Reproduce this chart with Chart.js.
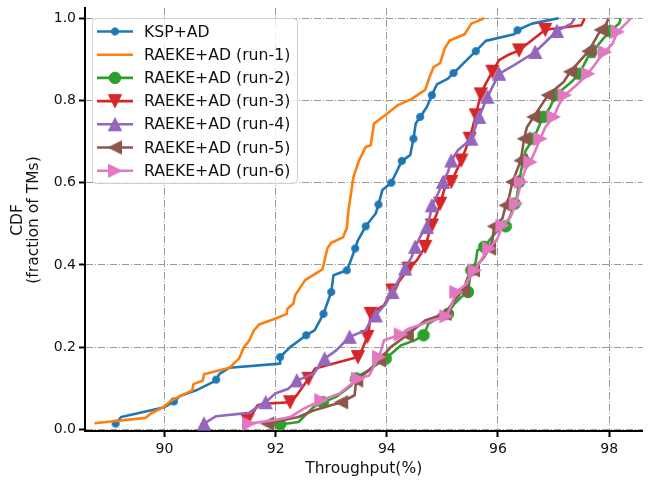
<!DOCTYPE html>
<html>
<head>
<meta charset="utf-8">
<script src="https://cdn.jsdelivr.net/npm/chart.js"></script>
<style>
  html, body { margin: 0; padding: 0; background: #fff; }
  canvas { display: block; }
</style>
</head>
<body>
<canvas id="cdf" width="650" height="483"></canvas>
<script>
// x ticks / y ticks
const xTicks = [90, 92, 94, 96, 98]
const yTicks = [0, 0.2, 0.4, 0.6, 0.8, 1.0]

const names = ['KSP+AD', 'RAEKE+AD (run-1)', 'RAEKE+AD (run-2)', 'RAEKE+AD (run-3)',
  'RAEKE+AD (run-4)', 'RAEKE+AD (run-5)', 'RAEKE+AD (run-6)']

// curves: [throughput %, CDF]
const kspLine = [[89.12,0.014],[89.22,0.03],[90.0,0.054],[90.17,0.068],[90.28,0.081],[90.57,0.095],[90.87,0.115],[90.93,0.121],[90.99,0.135],[91.17,0.15],[92.08,0.16],[92.08,0.176],[92.26,0.2],[92.55,0.229],[92.7,0.241],[92.86,0.281],[93.0,0.334],[93.04,0.375],[93.28,0.387],[93.33,0.403],[93.43,0.44],[93.48,0.46],[93.62,0.494],[93.8,0.525],[93.85,0.547],[93.92,0.582],[94.08,0.6],[94.27,0.653],[94.42,0.667],[94.48,0.707],[94.52,0.744],[94.6,0.76],[94.72,0.784],[94.81,0.813],[94.9,0.839],[95.1,0.853],[95.2,0.867],[95.31,0.881],[95.6,0.92],[95.78,0.945],[96.29,0.961],[96.35,0.971],[96.61,0.987],[97.09,1.0]]
const kspMarks = [[89.12,0.014],[90.17,0.068],[90.93,0.121],[92.08,0.176],[92.55,0.229],[92.86,0.281],[93.0,0.334],[93.28,0.387],[93.43,0.44],[93.62,0.494],[93.85,0.547],[94.08,0.6],[94.27,0.653],[94.48,0.707],[94.6,0.76],[94.81,0.813],[95.2,0.867],[95.6,0.92],[96.35,0.971]]

const run1Line = [[88.74,0.015],[89.66,0.028],[89.75,0.038],[89.98,0.054],[90.11,0.069],[90.28,0.081],[90.5,0.095],[90.52,0.11],[90.69,0.119],[90.71,0.134],[91.17,0.15],[91.34,0.172],[91.43,0.2],[91.52,0.215],[91.61,0.241],[91.7,0.255],[91.99,0.269],[92.2,0.281],[92.21,0.293],[92.32,0.306],[92.35,0.326],[92.53,0.363],[92.84,0.389],[92.88,0.411],[92.93,0.44],[93.0,0.454],[93.21,0.467],[93.28,0.49],[93.31,0.533],[93.4,0.614],[93.5,0.654],[93.62,0.687],[93.71,0.691],[93.77,0.744],[93.97,0.764],[94.19,0.788],[94.45,0.804],[94.69,0.826],[94.78,0.861],[94.84,0.881],[94.96,0.891],[95.04,0.926],[95.13,0.946],[95.4,0.961],[95.52,0.987],[95.75,1.0]]
const run1Marks = []

const run2Line = [[92.08,0.012],[92.41,0.018],[92.68,0.054],[92.85,0.066],[93.09,0.079],[93.36,0.107],[93.45,0.127],[93.68,0.144],[93.8,0.156],[93.98,0.172],[94.25,0.204],[94.51,0.217],[94.66,0.229],[94.75,0.257],[94.9,0.269],[95.07,0.277],[95.22,0.306],[95.34,0.322],[95.46,0.334],[95.49,0.363],[95.52,0.387],[95.6,0.407],[95.63,0.436],[95.75,0.444],[95.87,0.464],[95.99,0.484],[96.14,0.494],[96.2,0.513],[96.29,0.541],[96.33,0.557],[96.38,0.602],[96.44,0.646],[96.5,0.679],[96.64,0.707],[96.76,0.744],[96.82,0.76],[96.94,0.784],[97.03,0.813],[97.18,0.829],[97.32,0.845],[97.46,0.865],[97.62,0.906],[97.7,0.918],[97.89,0.95],[98.02,0.969],[98.18,0.987],[98.21,1.0]]
const run2Marks = [[92.08,0.012],[92.85,0.066],[93.45,0.124],[93.98,0.172],[94.66,0.229],[95.1,0.281],[95.46,0.334],[95.52,0.387],[95.75,0.444],[96.14,0.494],[96.3,0.549],[96.38,0.602],[96.47,0.654],[96.64,0.707],[96.82,0.76],[97.03,0.813],[97.46,0.865],[97.68,0.918],[98.02,0.969]]

const run3Line = [[91.5,0.018],[91.67,0.058],[91.76,0.062],[92.26,0.066],[92.38,0.083],[92.59,0.123],[92.71,0.148],[93.48,0.176],[93.56,0.196],[93.65,0.225],[93.68,0.245],[93.71,0.281],[93.95,0.302],[94.1,0.338],[94.39,0.391],[94.54,0.411],[94.69,0.444],[94.75,0.472],[94.81,0.496],[94.9,0.525],[94.96,0.549],[95.04,0.586],[95.16,0.602],[95.34,0.654],[95.49,0.707],[95.6,0.764],[95.69,0.815],[95.78,0.841],[95.9,0.87],[96.02,0.898],[96.17,0.91],[96.38,0.922],[96.85,0.972],[97.5,0.983],[97.56,1.0]]
const run3Marks = [[91.49,0.022],[92.26,0.066],[92.59,0.123],[93.48,0.176],[93.65,0.225],[93.71,0.281],[94.1,0.338],[94.39,0.391],[94.69,0.444],[94.81,0.496],[94.96,0.549],[95.16,0.602],[95.34,0.654],[95.49,0.707],[95.6,0.764],[95.69,0.815],[95.9,0.87],[96.38,0.922],[96.85,0.972]]

const run4Line = [[90.71,0.014],[90.93,0.032],[91.52,0.04],[91.67,0.054],[91.82,0.066],[91.99,0.087],[92.23,0.099],[92.38,0.119],[92.68,0.135],[92.88,0.172],[93.09,0.192],[93.33,0.225],[93.62,0.241],[93.71,0.265],[93.8,0.277],[93.98,0.306],[94.1,0.334],[94.2,0.36],[94.33,0.391],[94.45,0.42],[94.51,0.444],[94.63,0.476],[94.72,0.492],[94.78,0.521],[94.81,0.545],[94.92,0.573],[95.01,0.602],[95.1,0.626],[95.16,0.654],[95.28,0.679],[95.52,0.707],[95.66,0.76],[95.81,0.809],[96.02,0.865],[96.29,0.886],[96.67,0.918],[97.06,0.969],[97.32,0.987],[97.38,1.0]]
const run4Marks = [[90.71,0.014],[91.82,0.066],[92.38,0.119],[92.88,0.172],[93.33,0.225],[93.8,0.277],[94.1,0.334],[94.33,0.391],[94.51,0.444],[94.72,0.492],[94.81,0.545],[95.01,0.602],[95.16,0.654],[95.52,0.707],[95.66,0.76],[95.81,0.809],[96.02,0.865],[96.67,0.918],[97.06,0.969]]

const run5Line = [[91.85,0.014],[92.41,0.03],[92.68,0.046],[93.09,0.062],[93.18,0.066],[93.42,0.083],[93.45,0.119],[93.68,0.144],[93.86,0.168],[94.07,0.2],[94.36,0.229],[94.69,0.265],[95.04,0.281],[95.22,0.314],[95.37,0.338],[95.46,0.371],[95.55,0.387],[95.75,0.419],[95.84,0.44],[95.9,0.46],[95.93,0.494],[96.08,0.513],[96.14,0.545],[96.2,0.565],[96.26,0.602],[96.41,0.654],[96.47,0.707],[96.52,0.735],[96.64,0.76],[96.9,0.813],[97.18,0.845],[97.3,0.87],[97.63,0.92],[97.85,0.972],[97.95,0.987],[97.99,1.0]]
const run5Marks = [[91.85,0.014],[93.18,0.066],[93.45,0.119],[93.86,0.168],[94.36,0.229],[95.04,0.281],[95.37,0.338],[95.55,0.387],[95.84,0.44],[95.93,0.494],[96.14,0.545],[96.26,0.602],[96.41,0.654],[96.47,0.707],[96.64,0.76],[96.9,0.813],[97.3,0.87],[97.63,0.92],[97.85,0.972]]

const run6Line = [[91.52,0.014],[91.97,0.022],[92.26,0.03],[92.5,0.05],[92.82,0.071],[93.15,0.087],[93.48,0.123],[93.68,0.131],[93.86,0.176],[93.95,0.217],[94.25,0.231],[94.39,0.245],[94.75,0.261],[95.07,0.275],[95.16,0.302],[95.25,0.334],[95.4,0.35],[95.58,0.387],[95.69,0.411],[95.84,0.44],[95.99,0.464],[96.08,0.496],[96.23,0.517],[96.32,0.549],[96.38,0.58],[96.41,0.602],[96.5,0.634],[96.58,0.65],[96.7,0.687],[96.76,0.707],[96.85,0.735],[97.0,0.76],[97.09,0.788],[97.2,0.813],[97.41,0.837],[97.62,0.865],[97.8,0.898],[97.92,0.918],[98.06,0.938],[98.15,0.967],[98.3,0.987],[98.39,1.0]]
const run6Marks = [[91.52,0.014],[92.82,0.071],[93.48,0.123],[93.86,0.176],[94.25,0.231],[95.07,0.275],[95.25,0.334],[95.58,0.387],[95.84,0.44],[96.08,0.496],[96.32,0.549],[96.41,0.602],[96.58,0.65],[96.76,0.707],[97.0,0.76],[97.2,0.813],[97.62,0.865],[97.92,0.918],[98.15,0.967]]

const lines = [kspLine, run1Line, run2Line, run3Line, run4Line, run5Line, run6Line]
const marks = [kspMarks, run1Marks, run2Marks, run3Marks, run4Marks, run5Marks, run6Marks]
const colors = ['#1f77b4', '#ff7f0e', '#2ca02c', '#d62728', '#9467bd', '#8c564b', '#e377c2']
const kinds = ['o', null, 'o', 'v', '^', '<', '>']
const sizes = [3.6, 0, 5.8, 6.5, 6.5, 6.5, 6.5]

const FONT = 'DejaVu Sans'
Chart.defaults.font.family = FONT

// matplotlib-like marker drawn on a small canvas
function makeMarker(kind, color, s) {
  const c = document.createElement('canvas')
  c.width = c.height = Math.ceil(s) * 2 + 4
  const g = c.getContext('2d')
  const m = c.width / 2
  g.fillStyle = color
  g.strokeStyle = color
  g.lineWidth = 1
  g.beginPath()
  if (kind === 'o') {
    g.arc(m, m, s, 0, Math.PI * 2)
  } else {
    const pts = {
      '^': [[0, -1], [-1, 1], [1, 1]],
      'v': [[0, 1], [-1, -1], [1, -1]],
      '<': [[-1, 0], [1, -1], [1, 1]],
      '>': [[1, 0], [-1, -1], [-1, 1]]
    }[kind]
    pts.forEach(([a, b], i) => i ? g.lineTo(m + a * s, m + b * s) : g.moveTo(m + a * s, m + b * s))
    g.closePath()
  }
  g.fill()
  g.stroke()
  return c
}

const markerImgs = kinds.map((k, i) => k ? makeMarker(k, colors[i], sizes[i]) : null)

const datasets = []
lines.forEach((ln, i) => {
  datasets.push({
    label: names[i],
    data: ln.map(([x, y]) => ({x, y})),
    showLine: true,
    borderColor: colors[i],
    backgroundColor: colors[i],
    borderWidth: 2.6,
    borderJoinStyle: 'round',
    pointRadius: 0,
    tension: 0,
    order: 100 - 2 * i
  })
  if (marks[i].length) {
    datasets.push({
      label: names[i] + ' marks',
      data: marks[i].map(([x, y]) => ({x, y})),
      showLine: false,
      pointStyle: markerImgs[i],
      pointRadius: sizes[i],
      order: 99 - 2 * i
    })
  }
})

const overlay = {
  id: 'overlay',
  afterDraw(chart) {
    const ctx = chart.ctx
    const area = chart.chartArea
    ctx.save()
    ctx.fillStyle = '#111'
    ctx.font = '15.5px "' + FONT + '"'
    ctx.textAlign = 'center'
    ctx.textBaseline = 'middle'
    // axis titles
    ctx.fillText('Throughput(%)', (area.left + area.right) / 2, 469)
    ctx.save()
    ctx.translate(18, 220)
    ctx.rotate(-Math.PI / 2)
    ctx.fillText('CDF', 0, 0)
    ctx.restore()
    ctx.save()
    ctx.translate(34, 220)
    ctx.rotate(-Math.PI / 2)
    ctx.fillText('(fraction of TMs)', 0, 0)
    ctx.restore()

    // legend
    const bx = 92.5, by = 18.5, bw = 205, bh = 165, r = 4
    ctx.beginPath()
    ctx.moveTo(bx + r, by)
    ctx.arcTo(bx + bw, by, bx + bw, by + bh, r)
    ctx.arcTo(bx + bw, by + bh, bx, by + bh, r)
    ctx.arcTo(bx, by + bh, bx, by, r)
    ctx.arcTo(bx, by, bx + bw, by, r)
    ctx.closePath()
    ctx.fillStyle = 'rgba(255,255,255,0.8)'
    ctx.fill()
    ctx.strokeStyle = '#d0d0d0'
    ctx.lineWidth = 1
    ctx.stroke()

    ctx.font = '15.7px "' + FONT + '"'
    names.forEach((n, i) => {
      const y = 31.5 + i * 23.2
      ctx.strokeStyle = colors[i]
      ctx.lineWidth = 2.6
      ctx.beginPath()
      ctx.moveTo(97, y)
      ctx.lineTo(133, y)
      ctx.stroke()
      const img = markerImgs[i]
      if (img) ctx.drawImage(img, 115 - img.width / 2, y - img.height / 2)
      ctx.fillStyle = '#111'
      ctx.textAlign = 'left'
      ctx.fillText(n, 144, y + 1)
    })
    ctx.restore()
  }
}

new Chart(document.getElementById('cdf'), {
  type: 'scatter',
  data: { datasets: datasets },
  options: {
    responsive: false,
    animation: false,
    devicePixelRatio: 1,
    layout: { padding: { top: 8, right: 0, left: 0, bottom: 0 } },
    plugins: { legend: { display: false }, tooltip: { enabled: false } },
    scales: {
      x: {
        type: 'linear',
        min: 88.57,
        max: 98.6,
        afterBuildTicks: s => { s.ticks = xTicks.map(v => ({ value: v })) },
        afterFit: s => { s.height = 52; s.paddingLeft = 0; s.paddingRight = 0 },
        grid: { color: '#999', lineWidth: 1, tickColor: '#000', tickWidth: 2, tickLength: 6 },
        border: { color: '#000', width: 2, dash: [7, 2, 1, 2] },
        ticks: {
          color: '#111', padding: 4, maxRotation: 0,
          font: { family: FONT, size: 14 },
          callback: v => String(v)
        }
      },
      y: {
        type: 'linear',
        min: -0.004,
        max: 1.025,
        afterBuildTicks: s => { s.ticks = yTicks.map(v => ({ value: v })) },
        afterFit: s => { s.width = 85; s.paddingTop = 0; s.paddingBottom = 0 },
        grid: { color: '#999', lineWidth: 1, tickColor: '#000', tickWidth: 2, tickLength: 6 },
        border: { color: '#000', width: 2, dash: [7, 2, 1, 2] },
        ticks: {
          color: '#111', padding: 3,
          font: { family: FONT, size: 14 },
          callback: v => Number(v).toFixed(1)
        }
      }
    }
  },
  plugins: [overlay]
})
</script>
</body>
</html>
